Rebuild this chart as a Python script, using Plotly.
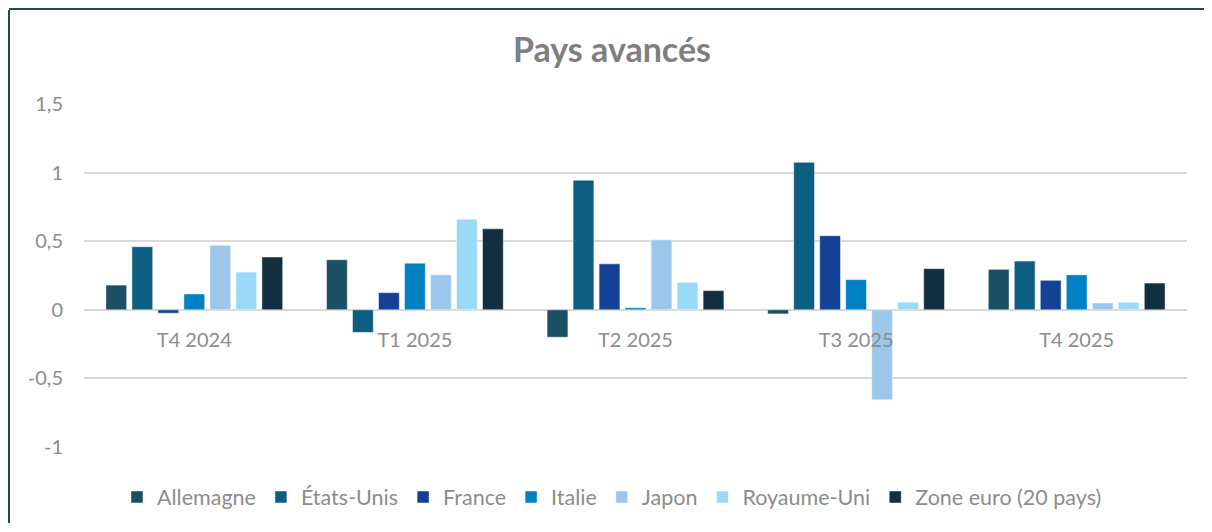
import plotly.graph_objects as go

categories = ["T4 2024", "T1 2025", "T2 2025", "T3 2025", "T4 2025"]
series_names = ["Allemagne", "États-Unis", "France", "Italie", "Japon", "Royaume-Uni", "Zone euro (20 pays)"]
allemagne = [0.18, 0.365, -0.20, -0.03, 0.295]
etats_unis = [0.46, -0.165, 0.945, 1.075, 0.355]
france = [-0.025, 0.125, 0.335, 0.54, 0.215]
italie = [0.115, 0.34, 0.015, 0.22, 0.255]
japon = [0.47, 0.255, 0.51, -0.655, 0.05]
royaume_uni = [0.275, 0.66, 0.20, 0.055, 0.055]
zone_euro = [0.385, 0.59, 0.14, 0.30, 0.195]
colors = ["#1B4F63", "#0E5E82", "#144196", "#0180C4", "#9DC6EB", "#9AD9F7", "#112F3F"]
ytick_vals = [-1, -0.5, 0, 0.5, 1, 1.5]
ytick_text = ["-1", "-0,5", "0", "0,5", "1", "1,5"]

values = [allemagne, etats_unis, france, italie, japon, royaume_uni, zone_euro]

FONT = "Lato"
GRAY = "#8C8C8C"

fig = go.Figure()
for name, vals, col in zip(series_names, values, colors):
    fig.add_trace(go.Bar(
        x=categories, y=vals, name=name,
        marker=dict(color=col, line=dict(color="rgba(255,255,255,0.6)", width=0.8)),
    ))

# the page body has an 8px margin on every side: the canvas spans screen 8..1204 x 8..524
OFF = 8
W, H = 1212 - 2 * OFF, 532 - 2 * OFF
L, T = 84 - OFF, 104 - OFF
R = (1212 - OFF) - 1187
B = (532 - OFF) - 447
pw, ph = W - L - R, H - T - B


def px_to_paper_x(px):
    return (px - OFF - L) / pw


def py_to_paper_y(py):
    return (H - B - (py - OFF)) / ph


fig.update_layout(
    width=W, height=H,
    margin=dict(l=L, r=R, t=T, b=B, autoexpand=False),
    paper_bgcolor="white", plot_bgcolor="white",
    barmode="group", bargap=0.175, bargroupgap=0.2,
    font=dict(family=FONT, color=GRAY, size=20),
    title=dict(text="<b>Pays avancés</b>", x=(612 - OFF) / W, xanchor="center",
               y=1 - (50 - OFF) / H, yanchor="middle",
               font=dict(family=FONT, size=34, color="#7F7F7F")),
    showlegend=True,
    legend=dict(orientation="h", x=px_to_paper_x(612), xanchor="center",
                y=py_to_paper_y(497), yanchor="middle",
                font=dict(family=FONT, size=21.5, color=GRAY),
                traceorder="normal", itemwidth=30),
    xaxis=dict(anchor="free", position=0.4, showline=False, showgrid=False,
               ticks="", tickfont=dict(family=FONT, size=20, color=GRAY),
               ticklabelstandoff=16, zeroline=False),
    yaxis=dict(range=[-1, 1.5], tickvals=ytick_vals, ticktext=ytick_text,
               showgrid=True, gridcolor="#D9D9D9", gridwidth=1.5,
               zeroline=True, zerolinecolor="#D9D9D9", zerolinewidth=1.5,
               showline=False, ticks="", ticklabelstandoff=20,
               tickfont=dict(family=FONT, size=20, color=GRAY)),
    shapes=[
        dict(type="line", xref="paper", yref="paper",
             x0=px_to_paper_x(9), x1=px_to_paper_x(1204),
             y0=py_to_paper_y(9), y1=py_to_paper_y(9),
             line=dict(color="#1A4A5C", width=2)),
        dict(type="rect", xref="paper", yref="paper",
             x0=px_to_paper_x(8), x1=px_to_paper_x(10),
             y0=py_to_paper_y(10), y1=py_to_paper_y(523),
             fillcolor="#1A4A5C", line=dict(width=0)),
    ],
)

fig.write_html("out.html")
